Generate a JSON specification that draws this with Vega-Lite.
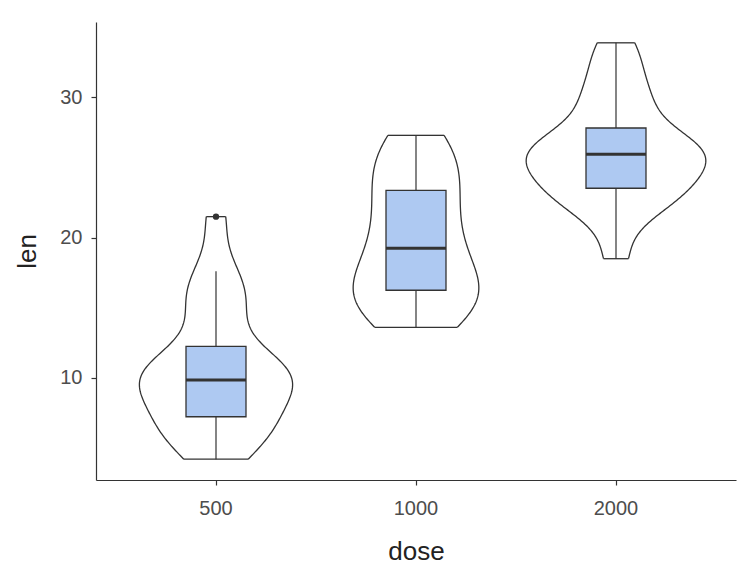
{
  "$schema": "https://vega.github.io/schema/vega-lite/v6.json",
  "width": 640,
  "height": 458,
  "autosize": {"type": "none"},
  "padding": {"left": 96, "top": 22, "right": 16, "bottom": 106},
  "background": "white",
  "config": {"font": "Liberation Sans", "view": {"stroke": null}},
  "data": {"values": [
    {"dose": "500", "len": 4.2}, {"dose": "500", "len": 11.5}, {"dose": "500", "len": 7.3}, {"dose": "500", "len": 5.8}, {"dose": "500", "len": 6.4},
    {"dose": "500", "len": 10}, {"dose": "500", "len": 11.2}, {"dose": "500", "len": 11.2}, {"dose": "500", "len": 5.2}, {"dose": "500", "len": 7},
    {"dose": "1000", "len": 16.5}, {"dose": "1000", "len": 16.5}, {"dose": "1000", "len": 15.2}, {"dose": "1000", "len": 17.3}, {"dose": "1000", "len": 22.5},
    {"dose": "1000", "len": 17.3}, {"dose": "1000", "len": 13.6}, {"dose": "1000", "len": 14.5}, {"dose": "1000", "len": 18.8}, {"dose": "1000", "len": 15.5},
    {"dose": "2000", "len": 23.6}, {"dose": "2000", "len": 18.5}, {"dose": "2000", "len": 33.9}, {"dose": "2000", "len": 25.5}, {"dose": "2000", "len": 26.4},
    {"dose": "2000", "len": 32.5}, {"dose": "2000", "len": 26.7}, {"dose": "2000", "len": 21.5}, {"dose": "2000", "len": 23.3}, {"dose": "2000", "len": 29.5},
    {"dose": "500", "len": 15.2}, {"dose": "500", "len": 21.5}, {"dose": "500", "len": 17.6}, {"dose": "500", "len": 9.7}, {"dose": "500", "len": 14.5},
    {"dose": "500", "len": 10}, {"dose": "500", "len": 8.2}, {"dose": "500", "len": 9.4}, {"dose": "500", "len": 16.5}, {"dose": "500", "len": 9.7},
    {"dose": "1000", "len": 19.7}, {"dose": "1000", "len": 23.3}, {"dose": "1000", "len": 23.6}, {"dose": "1000", "len": 26.4}, {"dose": "1000", "len": 20},
    {"dose": "1000", "len": 25.2}, {"dose": "1000", "len": 25.8}, {"dose": "1000", "len": 21.2}, {"dose": "1000", "len": 14.5}, {"dose": "1000", "len": 27.3},
    {"dose": "2000", "len": 25.5}, {"dose": "2000", "len": 26.4}, {"dose": "2000", "len": 22.4}, {"dose": "2000", "len": 24.5}, {"dose": "2000", "len": 24.8},
    {"dose": "2000", "len": 30.9}, {"dose": "2000", "len": 26.4}, {"dose": "2000", "len": 27.3}, {"dose": "2000", "len": 29.4}, {"dose": "2000", "len": 23}
  ]},
  "layer": [
    {
      "transform": [{"filter": "datum.dose == '500'"}, {"density": "len", "bandwidth": 1.854, "steps": 200, "as": ["value", "density"]}],
      "encoding": {
        "y": {"field": "value", "type": "quantitative", "title": "len", "scale": {"domain": [2.715, 35.385], "nice": false, "zero": false},
              "axis": {"values": [10, 20, 30], "grid": false, "domainColor": "#333333", "domainWidth": 1.2, "tickColor": "#333333", "tickWidth": 1.2, "tickSize": 5, "labelFontSize": 20, "labelColor": "#4d4d4d", "labelPadding": 9, "titleFontSize": 26, "titleFontWeight": "normal", "titleColor": "#222222", "titlePadding": 19}},
        "x": {"field": "density", "type": "quantitative", "scale": {"domain": [-0.1512, 0.6552], "nice": false, "zero": false}, "axis": null}
      },
      "layer": [
        {"mark": {"type": "line", "color": "#333333", "strokeWidth": 1.3}, "encoding": {"order": {"field": "value", "type": "quantitative"}}},
        {"transform": [{"joinaggregate": [{"op": "min", "field": "value", "as": "vmin"}, {"op": "max", "field": "value", "as": "vmax"}]}, {"filter": "datum.value == datum.vmin || datum.value == datum.vmax"}],
         "mark": {"type": "rule", "color": "#333333", "strokeWidth": 1.3}, "encoding": {"x": {"datum": 0, "type": "quantitative"}, "x2": {"field": "density"}}}
      ]
    },
    {
      "transform": [{"filter": "datum.dose == '500'"}, {"density": "len", "bandwidth": 1.854, "steps": 200, "as": ["value", "density"]}],
      "encoding": {
        "y": {"field": "value", "type": "quantitative", "title": "len", "scale": {"domain": [2.715, 35.385], "nice": false, "zero": false}},
        "x": {"field": "density", "type": "quantitative", "scale": {"domain": [-0.6552, 0.1512], "reverse": true, "nice": false, "zero": false}, "axis": null}
      },
      "layer": [
        {"mark": {"type": "line", "color": "#333333", "strokeWidth": 1.3}, "encoding": {"order": {"field": "value", "type": "quantitative"}}},
        {"transform": [{"joinaggregate": [{"op": "min", "field": "value", "as": "vmin"}, {"op": "max", "field": "value", "as": "vmax"}]}, {"filter": "datum.value == datum.vmin || datum.value == datum.vmax"}],
         "mark": {"type": "rule", "color": "#333333", "strokeWidth": 1.3}, "encoding": {"x": {"datum": 0, "type": "quantitative"}, "x2": {"field": "density"}}}
      ]
    },
    {
      "transform": [{"filter": "datum.dose == '1000'"}, {"density": "len", "bandwidth": 2.183, "steps": 200, "as": ["value", "density"]}],
      "encoding": {
        "y": {"field": "value", "type": "quantitative", "title": "len", "scale": {"domain": [2.715, 35.385], "nice": false, "zero": false}},
        "x": {"field": "density", "type": "quantitative", "scale": {"domain": [-0.4032, 0.4032], "nice": false, "zero": false}, "axis": null}
      },
      "layer": [
        {"mark": {"type": "line", "color": "#333333", "strokeWidth": 1.3}, "encoding": {"order": {"field": "value", "type": "quantitative"}}},
        {"transform": [{"joinaggregate": [{"op": "min", "field": "value", "as": "vmin"}, {"op": "max", "field": "value", "as": "vmax"}]}, {"filter": "datum.value == datum.vmin || datum.value == datum.vmax"}],
         "mark": {"type": "rule", "color": "#333333", "strokeWidth": 1.3}, "encoding": {"x": {"datum": 0, "type": "quantitative"}, "x2": {"field": "density"}}}
      ]
    },
    {
      "transform": [{"filter": "datum.dose == '1000'"}, {"density": "len", "bandwidth": 2.183, "steps": 200, "as": ["value", "density"]}],
      "encoding": {
        "y": {"field": "value", "type": "quantitative", "title": "len", "scale": {"domain": [2.715, 35.385], "nice": false, "zero": false}},
        "x": {"field": "density", "type": "quantitative", "scale": {"domain": [-0.4032, 0.4032], "reverse": true, "nice": false, "zero": false}, "axis": null}
      },
      "layer": [
        {"mark": {"type": "line", "color": "#333333", "strokeWidth": 1.3}, "encoding": {"order": {"field": "value", "type": "quantitative"}}},
        {"transform": [{"joinaggregate": [{"op": "min", "field": "value", "as": "vmin"}, {"op": "max", "field": "value", "as": "vmax"}]}, {"filter": "datum.value == datum.vmin || datum.value == datum.vmax"}],
         "mark": {"type": "rule", "color": "#333333", "strokeWidth": 1.3}, "encoding": {"x": {"datum": 0, "type": "quantitative"}, "x2": {"field": "density"}}}
      ]
    },
    {
      "transform": [{"filter": "datum.dose == '2000'"}, {"density": "len", "bandwidth": 1.586, "steps": 200, "as": ["value", "density"]}],
      "encoding": {
        "y": {"field": "value", "type": "quantitative", "title": "len", "scale": {"domain": [2.715, 35.385], "nice": false, "zero": false}},
        "x": {"field": "density", "type": "quantitative", "scale": {"domain": [-0.6552, 0.1512], "nice": false, "zero": false}, "axis": null}
      },
      "layer": [
        {"mark": {"type": "line", "color": "#333333", "strokeWidth": 1.3}, "encoding": {"order": {"field": "value", "type": "quantitative"}}},
        {"transform": [{"joinaggregate": [{"op": "min", "field": "value", "as": "vmin"}, {"op": "max", "field": "value", "as": "vmax"}]}, {"filter": "datum.value == datum.vmin || datum.value == datum.vmax"}],
         "mark": {"type": "rule", "color": "#333333", "strokeWidth": 1.3}, "encoding": {"x": {"datum": 0, "type": "quantitative"}, "x2": {"field": "density"}}}
      ]
    },
    {
      "transform": [{"filter": "datum.dose == '2000'"}, {"density": "len", "bandwidth": 1.586, "steps": 200, "as": ["value", "density"]}],
      "encoding": {
        "y": {"field": "value", "type": "quantitative", "title": "len", "scale": {"domain": [2.715, 35.385], "nice": false, "zero": false}},
        "x": {"field": "density", "type": "quantitative", "scale": {"domain": [-0.1512, 0.6552], "reverse": true, "nice": false, "zero": false}, "axis": null}
      },
      "layer": [
        {"mark": {"type": "line", "color": "#333333", "strokeWidth": 1.3}, "encoding": {"order": {"field": "value", "type": "quantitative"}}},
        {"transform": [{"joinaggregate": [{"op": "min", "field": "value", "as": "vmin"}, {"op": "max", "field": "value", "as": "vmax"}]}, {"filter": "datum.value == datum.vmin || datum.value == datum.vmax"}],
         "mark": {"type": "rule", "color": "#333333", "strokeWidth": 1.3}, "encoding": {"x": {"datum": 0, "type": "quantitative"}, "x2": {"field": "density"}}}
      ]
    },
    {
      "mark": {"type": "boxplot", "extent": 1.5, "size": 60,
               "box": {"fill": "#aec9f2", "stroke": "#333333", "strokeWidth": 1.3, "opacity": 1},
               "median": {"color": "#333333", "thickness": 3, "opacity": 1},
               "rule": {"color": "#333333", "strokeWidth": 1.2, "opacity": 1},
               "outliers": {"filled": true, "color": "#333333", "size": 40, "opacity": 1}},
      "encoding": {
        "x": {"field": "dose", "type": "ordinal", "sort": ["500", "1000", "2000"], "title": "dose",
              "scale": {"paddingInner": 0, "paddingOuter": 0.1},
              "axis": {"labelAngle": 0, "domainColor": "#333333", "domainWidth": 1.2, "tickColor": "#333333", "tickWidth": 1.2, "tickSize": 5, "labelFontSize": 20, "labelColor": "#4d4d4d", "labelPadding": 13, "titleFontSize": 26, "titleFontWeight": "normal", "titleColor": "#222222", "titlePadding": 20}},
        "y": {"field": "len", "type": "quantitative", "title": "len", "scale": {"domain": [2.715, 35.385], "nice": false, "zero": false}}
      }
    }
  ],
  "resolve": {"scale": {"x": "independent"}}
}
